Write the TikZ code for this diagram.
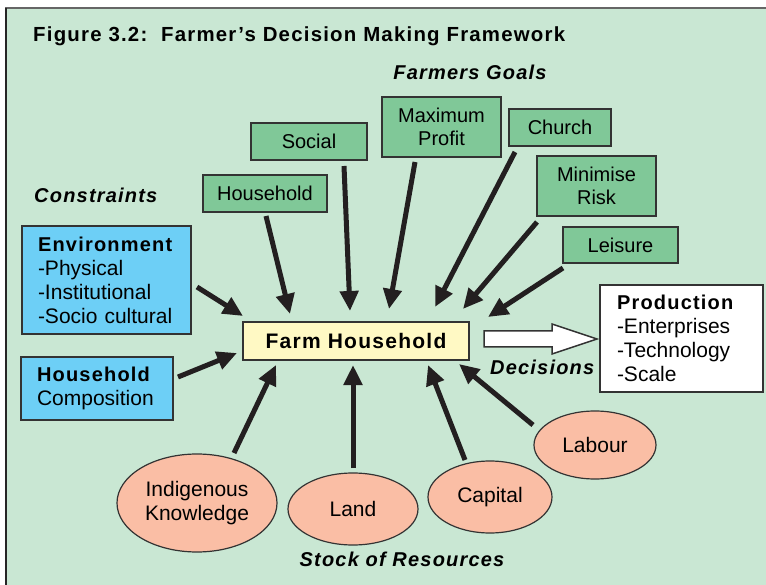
\documentclass[tikz,border=0pt]{standalone}
\usepackage{fontspec}
\setmainfont{Liberation Sans}
\newfontfamily\lsfont{Liberation Sans}[LetterSpace=6]
\usetikzlibrary{arrows.meta,shapes.geometric}
\definecolor{bgc}{HTML}{C9E7D3}
\definecolor{goalc}{HTML}{80C898}
\definecolor{bluec}{HTML}{6DCFF6}
\definecolor{salmc}{HTML}{FABEA5}
\definecolor{yelc}{HTML}{FFF9C4}
\definecolor{arrc}{HTML}{231F20}
\definecolor{bdc}{HTML}{333333}
\tikzset{
  txt/.style={font=\fontsize{21}{24}\selectfont},
  bold/.style={font=\lsfont\bfseries\fontsize{20}{24}\selectfont},
  heading/.style={font=\lsfont\bfseries\itshape\fontsize{20}{24}\selectfont, inner sep=0},
  goal/.style={draw=bdc, fill=goalc, line width=1.2pt, inner sep=0, align=center, font=\fontsize{20}{23}\selectfont},
  constr/.style={txt, draw=bdc, fill=bluec, line width=1.2pt, inner ysep=0, align=left},
  res/.style={txt, ellipse, draw=bdc, fill=salmc, line width=1.2pt, inner sep=0, align=center},
  arr/.style={draw=arrc, line width=5pt, -{Triangle[length=20pt,width=18pt]}},
}
\begin{document}
\begin{tikzpicture}[x=1pt,y=-1pt]
\useasboundingbox (0,0) rectangle (766,585);
\fill[bgc] (6,8) rectangle (770,590);
\draw[color=black!60, line width=2.5pt] (5,8) -- (770,8);
\draw[color=black!85, line width=2pt] (6,8) -- (6,590);

\node[font=\lsfont\bfseries\fontsize{20.4}{24}\selectfont, anchor=base west, inner sep=0] (title) at (33,42) {Figure 3.2:\ \ Farmer’s Decision Making Framework};
\node[heading, anchor=base] (goalslbl) at (470,80) {Farmers Goals};
\node[heading, anchor=base west] (conlbl) at (34,203) {Constraints};
\node[heading, anchor=base west] (declbl) at (490,374) {Decisions};
\node[heading, anchor=base] (reslbl) at (402,566) {Stock of Resources};

% goals
\node[goal, minimum width=119, minimum height=60] (profit) at (441.5,127) {Maximum\\Profit};
\node[goal, minimum width=102, minimum height=37] (church) at (560,127.5) {Church};
\node[goal, minimum width=119, minimum height=60] (risk) at (596.5,186) {Minimise\\Risk};
\node[goal, minimum width=115, minimum height=36] (leisure) at (620.5,245) {Leisure};
\node[goal, minimum width=116, minimum height=37] (social) at (309,141.5) {Social};
\node[goal, minimum width=124, minimum height=37] (hhgoal) at (265,193.5) {Household};

% constraints
\node[constr, inner xsep=16pt, text width=137, minimum height=108] (env) at (106.5,280)
  {{\lsfont\bfseries\fontsize{20}{24}\selectfont Environment}\\-Physical\\-Institutional\\-Socio cultural};
\node[constr, inner xsep=16pt, text width=120, minimum height=63] (hhcomp) at (97,388.5)
  {{\lsfont\bfseries\fontsize{20}{24}\selectfont Household}\\Composition};

% farm household
\node[font=\lsfont\bfseries\fontsize{21}{24}\selectfont, draw=bdc, fill=yelc, line width=1.5pt, minimum width=226, minimum height=38, inner sep=0] (fh) at (356,341) {Farm Household};

% production
\node[txt, draw=bdc, fill=white, line width=1.2pt, inner xsep=17pt, inner ysep=0, text width=129, minimum height=107, align=left] (prod) at (681.5,338.5)
  {{\lsfont\bfseries\fontsize{20}{24}\selectfont Production}\\-Enterprises\\-Technology\\-Scale};

% resources
\node[res, minimum width=160, minimum height=98] (ik) at (197,503) {Indigenous\\Knowledge};
\node[res, minimum width=130, minimum height=72] (land) at (353,509) {Land};
\node[res, minimum width=124, minimum height=72] (capital) at (490,497) {Capital};
\node[res, minimum width=122, minimum height=68] (labour) at (595,445) {Labour};

% arrow end coordinates
\coordinate (hgA) at (266,216); \coordinate (hgB) at (290,314);
\coordinate (soA) at (344,166); \coordinate (soB) at (350,311);
\coordinate (prA) at (415,162); \coordinate (prB) at (389,309);
\coordinate (chA) at (515,152); \coordinate (chB) at (435,307);
\coordinate (riA) at (537,222); \coordinate (riB) at (463,309);
\coordinate (leA) at (563,268); \coordinate (leB) at (488,317);
\coordinate (enA) at (197,287); \coordinate (enB) at (243,316);
\coordinate (hcA) at (178,377); \coordinate (hcB) at (237,353);
\coordinate (ikA) at (234,453); \coordinate (ikB) at (276,365);
\coordinate (laA) at (353,468); \coordinate (laB) at (353,365);
\coordinate (caA) at (465,460); \coordinate (caB) at (428,365);
\coordinate (lbA) at (533,425); \coordinate (lbB) at (459,364);

\draw[arr] (hgA) -- (hgB);
\draw[arr] (soA) -- (soB);
\draw[arr] (prA) -- (prB);
\draw[arr] (chA) -- (chB);
\draw[arr] (riA) -- (riB);
\draw[arr] (leA) -- (leB);
\draw[arr] (enA) -- (enB);
\draw[arr] (hcA) -- (hcB);
\draw[arr] (ikA) -- (ikB);
\draw[arr] (laA) -- (laB);
\draw[arr] (caA) -- (caB);
\draw[arr] (lbA) -- (lbB);

% decision arrow (hollow)
\draw[draw=bdc, fill=white, line width=1.5pt, line join=miter]
  (484,331) -- (552,331) -- (552,324) -- (597,339) -- (552,354) -- (552,347) -- (484,347) -- cycle;
\end{tikzpicture}
\end{document}
